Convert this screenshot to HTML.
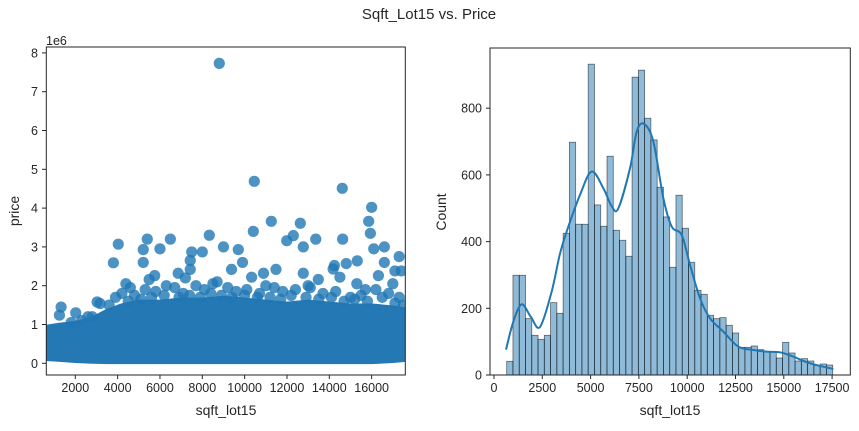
<!DOCTYPE html>
<html><head><meta charset="utf-8"><style>
html,body{margin:0;padding:0;background:#fff;}
svg text{font-family:"Liberation Sans","DejaVu Sans",sans-serif;fill:#262626;}
</style></head><body>
<svg id="fig" width="859" height="426" viewBox="0 0 859 426" xmlns="http://www.w3.org/2000/svg">
<defs>
<clipPath id="clipL"><rect x="46.3" y="47" width="359" height="328"/></clipPath>
<clipPath id="clipR"><rect x="490" y="48" width="360.3" height="327"/></clipPath>
</defs>
<text x="429" y="19" font-size="15" text-anchor="middle">Sqft_Lot15 vs. Price</text>
<g id="left"></g>
<g id="right"></g>
</svg>
<script>
// ---- scatter data ----
const bandX = [630,1200,2000,2800,3500,4200,5000,6000,7000,8000,9000,10000,11000,12000,13000,14000,15000,16000,17000,17590];
const bandTop = [0.85,0.9,0.95,1.05,1.25,1.4,1.5,1.5,1.55,1.55,1.6,1.55,1.5,1.45,1.5,1.45,1.4,1.4,1.35,1.3];
const bandBottom = [0.2,0.18,0.15,0.13,0.12,0.12,0.12,0.12,0.12,0.12,0.12,0.12,0.12,0.12,0.12,0.12,0.12,0.12,0.15,0.18];
const outX = [8802,10455,14612,16000,15860,15940,11260,12630,10410,8330,4030,5400,6490,9000,11990,12300,13360,14630,16600,16100,12770,3800,5210,6000,7500,8000,9700,9900,17300,16600,15320,14800,14240,14180,17000,17100,17400,15300,16320,14500,13480,11480,12770,10890,10330,9380,7430,7430,6860,5750,5490,5210,4390,3170,1330,2020,1250,3030,
 4600,6300,8700,11000,13000,15700,2600,7200,
 3600,4200,4800,5300,5800,6700,7100,7700,8100,8500,9200,9600,10100,10700,11400,11800,12400,13100,13700,14300,15000,15500,16200,16800,17300,
 3900,4500,5100,5600,6200,6900,7400,7900,8400,8900,9400,10000,10600,11200,11700,12200,12900,13500,14100,14700,15200,15800,16500,17100,17500,2300,1800,2800];
const outP = [7.73,4.69,4.51,4.02,3.66,3.35,3.66,3.61,3.40,3.30,3.07,3.20,3.20,3.00,3.16,3.29,3.20,3.20,3.00,2.95,3.00,2.59,2.93,2.95,2.87,2.87,2.93,2.60,2.75,2.60,2.64,2.57,2.52,2.43,2.05,2.38,2.38,2.05,2.26,2.22,2.16,2.42,2.32,2.32,2.22,2.42,2.65,2.42,2.32,2.26,2.16,2.60,2.05,1.54,1.45,1.30,1.24,1.58,
 1.95,2.0,2.1,2.0,2.0,1.9,1.2,2.2,
 1.5,1.8,1.75,1.9,1.85,1.95,1.8,2.0,1.9,2.05,1.95,1.85,1.9,1.8,1.95,1.85,1.9,1.95,1.8,1.85,1.7,1.75,1.9,1.8,1.7,
 1.7,1.6,1.65,1.7,1.75,1.7,1.75,1.7,1.8,1.75,1.7,1.75,1.7,1.7,1.65,1.75,1.7,1.65,1.7,1.6,1.65,1.6,1.7,1.55,1.5,1.1,1.05,1.2];
const xTicksL = [2000,4000,6000,8000,10000,12000,14000,16000];
const yTicksL = [0,1,2,3,4,5,6,7,8];
// ---- histogram data ----
const binStart = 657, binWidth = 324.5;
const counts = [41,299,299,169,119,107,119,217,185,425,698,452,452,932,510,446,656,434,404,356,893,914,770,705,563,474,323,539,440,338,254,242,179,169,172,149,126,83,83,87,76,69,69,51,98,66,42,49,42,29,33,30];
const kdeX = [621,1000,1432,1900,2381,2985,3400,3761,4451,5055,5660,6100,6436,7040,7385,7765,8248,8766,9197,9715,10146,10664,11181,11872,12648,13425,14115,14805,15495,16357,17565];
const kdeY = [76,160,212,175,144,250,360,430,540,610,560,505,500,620,730,753,700,530,445,420,330,230,170,130,85,75,70,68,55,35,18];
const xTicksR = [0,2500,5000,7500,10000,12500,15000,17500];
const yTicksR = [0,200,400,600,800];

const NS="http://www.w3.org/2000/svg";
function mk(tag, attrs, parent){const e=document.createElementNS(NS,tag);for(const k in attrs)e.setAttribute(k,attrs[k]);parent.appendChild(e);return e;}
const C="#1f77b4";

// left axes
const L=document.getElementById('left');
const lx=v=>46.3+(v-630)*(359/16960);
const ly=p=>363.3-p*38.8;
let g=mk('g',{'clip-path':'url(#clipL)'},L);
let d='';
bandX.forEach((x,i)=>{d+=(i?'L':'M')+lx(x)+','+ly(bandTop[i]);});
for(let i=bandX.length-1;i>=0;i--){d+='L'+lx(bandX[i])+','+ly(bandBottom[i]);}
d+='Z';
const band=mk('path',{d:d,fill:'#2479b5',stroke:'#2479b5','stroke-width':11,'stroke-linejoin':'round'},g);


outX.forEach((x,i)=>{
  const c=mk('circle',{cx:lx(x),cy:ly(outP[i]),r:5.6,fill:C,'fill-opacity':0.8},g);
  
  
});
const fL=mk('rect',{x:46.3,y:47,width:359,height:328,fill:'none',stroke:'#262626','stroke-width':1},L);


xTicksL.forEach(v=>{
  mk('line',{x1:lx(v),x2:lx(v),y1:375,y2:379,stroke:'#262626'},L);
  const t=mk('text',{x:lx(v),y:392,'font-size':12.5,'text-anchor':'middle'},L);t.textContent=v;
  
  
});
yTicksL.forEach(v=>{
  mk('line',{x1:42,x2:46.3,y1:ly(v),y2:ly(v),stroke:'#262626'},L);
  const t=mk('text',{x:38,y:ly(v)+4.5,'font-size':12.5,'text-anchor':'end'},L);t.textContent=v;
  
  
});
let t=mk('text',{x:46,y:45,'font-size':12.5},L);t.textContent='1e6';


t=mk('text',{x:226,y:415,'font-size':14,'text-anchor':'middle'},L);t.textContent='sqft_lot15';


t=mk('text',{x:0,y:0,'font-size':14,'text-anchor':'middle',transform:'translate(19,211) rotate(-90)'},L);t.textContent='price';



// right axes
const R=document.getElementById('right');
const rx=v=>494+v*(48.3/2500);
const ry=c=>375-c*(66.7/200);
g=mk('g',{'clip-path':'url(#clipR)'},R);
counts.forEach((c,i)=>{
  const x0=rx(binStart+i*binWidth), x1=rx(binStart+(i+1)*binWidth);
  const b=mk('rect',{x:x0,y:ry(c),width:x1-x0,height:375-ry(c),fill:'rgba(31,119,180,0.5)',stroke:'rgba(0,0,0,0.55)','stroke-width':0.8},g);
  
  
});
// smooth catmull-rom path
const P=kdeX.map((x,i)=>[rx(x),ry(kdeY[i])]);
let kd='M'+P[0][0]+','+P[0][1];
for(let i=0;i<P.length-1;i++){
  const p0=P[Math.max(0,i-1)],p1=P[i],p2=P[i+1],p3=P[Math.min(P.length-1,i+2)];
  const c1=[p1[0]+(p2[0]-p0[0])/6,p1[1]+(p2[1]-p0[1])/6];
  const c2=[p2[0]-(p3[0]-p1[0])/6,p2[1]-(p3[1]-p1[1])/6];
  kd+='C'+c1[0]+','+c1[1]+' '+c2[0]+','+c2[1]+' '+p2[0]+','+p2[1];
}
const kl=mk('path',{d:kd,fill:'none',stroke:C,'stroke-width':2,'stroke-linejoin':'round'},g);


const fR=mk('rect',{x:490,y:48,width:360.3,height:327,fill:'none',stroke:'#262626','stroke-width':1},R);


xTicksR.forEach(v=>{
  mk('line',{x1:rx(v),x2:rx(v),y1:375,y2:379,stroke:'#262626'},R);
  const t=mk('text',{x:rx(v),y:392,'font-size':12.5,'text-anchor':'middle'},R);t.textContent=v;
  
  
});
yTicksR.forEach(v=>{
  mk('line',{x1:486,x2:490,y1:ry(v),y2:ry(v),stroke:'#262626'},R);
  const t=mk('text',{x:482,y:ry(v)+4.5,'font-size':12.5,'text-anchor':'end'},R);t.textContent=v;
  
  
});
t=mk('text',{x:670,y:415,'font-size':14,'text-anchor':'middle'},R);t.textContent='sqft_lot15';


t=mk('text',{x:0,y:0,'font-size':14,'text-anchor':'middle',transform:'translate(446,212) rotate(-90)'},R);t.textContent='Count';


</script>
</body></html>
